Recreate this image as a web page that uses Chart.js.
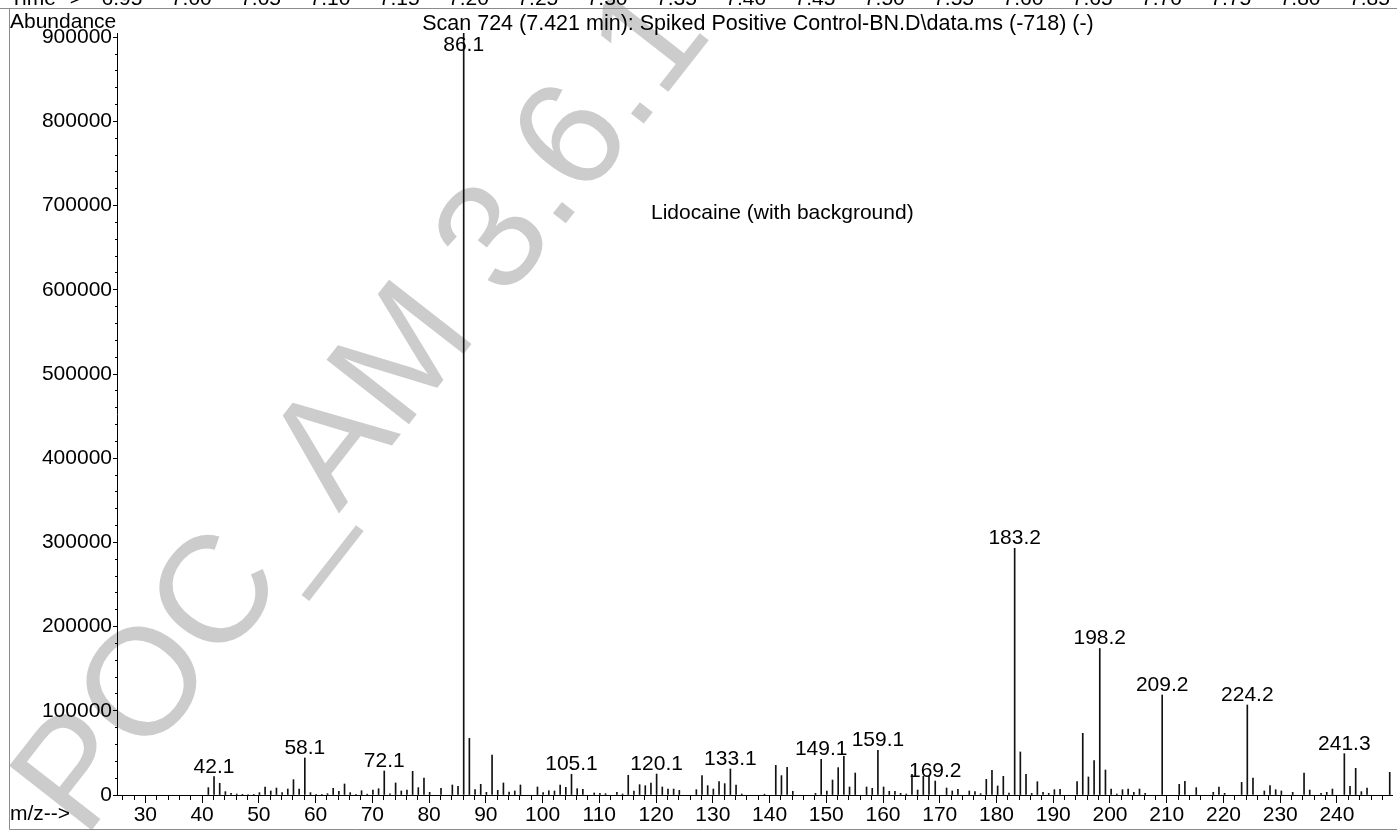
<!DOCTYPE html>
<html>
<head>
<meta charset="utf-8">
<title>Scan 724 - Lidocaine</title>
<script src="https://cdn.jsdelivr.net/npm/chart.js@4.4.1/dist/chart.umd.min.js"></script>
<style>
  html, body { margin: 0; padding: 0; background: #fff; }
  #wrap { width: 1397px; height: 831px; }
</style>
</head>
<body>
<div id="wrap"><canvas id="msChart" width="1397" height="831"></canvas></div>
<script>
// m/z of each line and its abundance
const mzValues = [
    41.1, 42.1, 43.1, 44.1, 45.1, 46.1, 47.1, 48.1, 49.1, 50.1,
    51.1, 52.1, 53.1, 54.1, 55.1, 56.1, 57.1, 58.1, 59.1, 60.1,
    61.1, 62.1, 63.1, 64.1, 65.1, 66.1, 67.1, 68.1, 69.1, 70.1,
    71.1, 72.1, 73.1, 74.1, 75.1, 76.1, 77.1, 78.1, 79.1, 80.1,
    82.1, 84.1, 85.1, 86.1, 87.1, 88.1, 89.1, 90.1, 91.1, 92.1,
    93.1, 94.1, 95.1, 96.1, 99.1, 100.1, 101.1, 102.1, 103.1, 104.1,
    105.1, 106.1, 107.1, 109.1, 110.1, 111.1, 113.1, 114.1, 115.1, 116.1,
    117.1, 118.1, 119.1, 120.1, 121.1, 122.1, 123.1, 124.1, 127.1, 128.1,
    129.1, 130.1, 131.1, 132.1, 133.1, 134.1, 135.1, 139.1, 141.1, 142.1,
    143.1, 144.1, 148.1, 149.1, 150.1, 151.1, 152.1, 153.1, 154.1, 155.1,
    157.1, 158.1, 159.1, 160.1, 161.1, 162.1, 163.1, 164.1, 165.1, 166.1,
    167.1, 168.1, 169.2, 171.2, 172.2, 173.2, 175.2, 176.2, 177.2, 178.2,
    179.2, 180.2, 181.2, 182.2, 183.2, 184.2, 185.2, 186.2, 187.2, 188.2,
    189.2, 190.2, 191.2, 194.2, 195.2, 196.2, 197.2, 198.2, 199.2, 200.2,
    201.2, 202.2, 203.2, 204.2, 205.2, 206.2, 209.2, 212.2, 213.2, 215.2,
    218.2, 219.2, 220.2, 223.2, 224.2, 225.2, 227.2, 228.2, 229.2, 230.2,
    232.2, 234.2, 235.2, 237.2, 238.2, 239.2, 241.3, 242.3, 243.3, 244.3,
    245.3, 249.3
];
const abundances = [
    8700, 21800, 13900, 4000, 2000, 1200, 800, 600, 700, 2800,
    9500, 4800, 8300, 2800, 7100, 18200, 7100, 44000, 2800, 800,
    800, 1600, 7900, 4400, 13100, 2800, 900, 5100, 1000, 5900,
    7500, 28500, 1500, 14300, 4800, 5900, 28100, 8700, 20200, 3200,
    7900, 11900, 10300, 910000, 67300, 6300, 12700, 3200, 47500, 5500,
    14300, 3600, 4800, 11900, 9500, 2800, 5100, 4800, 11900, 9100,
    24600, 7500, 6700, 2400, 2000, 1600, 3200, 1200, 23400, 4800,
    12300, 11100, 14300, 24900, 9500, 7100, 7100, 5500, 6300, 23000,
    11100, 7100, 15800, 13500, 30900, 11900, 1200, 1000, 35200, 23000,
    32900, 4400, 2000, 42400, 4800, 17800, 32500, 45900, 9500, 26100,
    9500, 7900, 53100, 9500, 4400, 4400, 2000, 1200, 24600, 5900,
    22200, 22200, 16600, 8300, 4800, 6700, 4800, 4000, 1600, 18600,
    29300, 10700, 22200, 2400, 293000, 51100, 24600, 2000, 15800, 3200,
    2000, 6300, 6700, 15800, 73300, 21400, 40800, 174000, 29700, 7100,
    1200, 6300, 7100, 3200, 7100, 2000, 118800, 12700, 16200, 8700,
    3200, 9500, 2000, 15000, 106900, 20200, 4800, 11100, 6300, 4800,
    3200, 26100, 5900, 2000, 3200, 7100, 49100, 10300, 31700, 4000,
    8300, 26900
];
// lines that carry an m/z label in the printout
const labelledMz = [42.1, 58.1, 72.1, 86.1, 105.1, 120.1, 133.1, 149.1, 159.1, 169.2,
    183.2, 198.2, 209.2, 224.2, 241.3];

const xMajorTicks = [30, 40, 50, 60, 70, 80, 90, 100, 110, 120, 130, 140, 150, 160, 170,
    180, 190, 200, 210, 220, 230, 240];
const yMajorTicks = [0, 100000, 200000, 300000, 400000, 500000, 600000, 700000, 800000, 900000];
const timeLabels = ['6.95', '7.00', '7.05', '7.10', '7.15', '7.20', '7.25', '7.30', '7.35', '7.40',
    '7.45', '7.50', '7.55', '7.60', '7.65', '7.70', '7.75', '7.80', '7.85'];

const titleText = 'Scan 724 (7.421 min): Spiked Positive Control-BN.D\\data.ms (-718) (-)';
const noteText = 'Lidocaine (with background)';
const watermarkText = 'POC_AM 3.6.1';

const X_MIN = 25, X_MAX = 249.7;
const Y_MIN = 0, Y_MAX = 905000;
const FONT = '"Liberation Sans", Arial, Helvetica, sans-serif';

// minor tick positions (every 2 m/z, every 20000 counts)
const xMinorTicks = [];
for (let v = 26; v < X_MAX; v += 2) xMinorTicks.push(v);
const yMinorTicks = [];
for (let v = 0; v <= 900000; v += 20000) yMinorTicks.push(v);

const printout = {
    id: 'printout',
    beforeDraw(chart) {
        const ctx = chart.ctx;
        ctx.save();
        ctx.fillStyle = '#cccccc';
        ctx.font = '152px ' + FONT;
        ctx.textAlign = 'left';
        ctx.textBaseline = 'alphabetic';
        ctx.translate(84, 840);
        ctx.rotate(-52 * Math.PI / 180);
        ctx.fillText(watermarkText, 0, 0);
        ctx.restore();
    },
    afterDraw(chart) {
        const ctx = chart.ctx;
        const xs = chart.scales.x;
        const ys = chart.scales.y;
        ctx.save();

        // page frame
        ctx.strokeStyle = '#8c8c8c';
        ctx.lineWidth = 1;
        ctx.beginPath();
        ctx.moveTo(0, 8.5); ctx.lineTo(1397, 8.5);
        ctx.moveTo(9.5, 8.5); ctx.lineTo(9.5, 829.5);
        ctx.moveTo(9.5, 829.5); ctx.lineTo(1397, 829.5);
        ctx.stroke();

        ctx.fillStyle = '#000';
        ctx.font = '21px ' + FONT;

        // cut-off time axis of the chromatogram above
        ctx.textBaseline = 'alphabetic';
        ctx.textAlign = 'left';
        ctx.fillText('Time-->', 10, 5);
        ctx.textAlign = 'center';
        timeLabels.forEach((t, i) => ctx.fillText(t, 122 + i * 69.3, 5));

        ctx.textAlign = 'left';
        ctx.fillText('Abundance', 10, 28);
        ctx.fillText('m/z-->', 10, 820);
        ctx.fillText(noteText, 651, 219);

        ctx.font = '21.5px ' + FONT;
        ctx.textAlign = 'center';
        ctx.fillText(titleText, 758, 30);

        // m/z labels above the main lines
        ctx.font = '21px ' + FONT;
        labelledMz.forEach((mz) => {
            const i = mzValues.indexOf(mz);
            const px = xs.getPixelForValue(mz);
            const py = ys.getPixelForValue(Math.min(abundances[i], Y_MAX));
            ctx.fillText(mz.toFixed(1), px, Math.max(py - 4, 51));
        });
        ctx.restore();
    }
};

const dataSpectrum = {
    datasets: [{
        label: 'Abundance',
        data: mzValues.map((mz, i) => ({ x: mz, y: abundances[i] })),
        backgroundColor: '#111',
        borderWidth: 0,
        barThickness: 1,
    }]
};

const configSpectrum = {
    type: 'bar',
    data: dataSpectrum,
    plugins: [printout],
    options: {
        responsive: false,
        animation: false,
        events: [],
        layout: { padding: { top: 33, right: 5, bottom: 0, left: 0 } },
        plugins: {
            legend: { display: false },
            tooltip: { enabled: false },
        },
        scales: {
            x: {
                type: 'linear',
                position: 'bottom',
                weight: 1,
                min: X_MIN,
                max: X_MAX,
                offset: false,
                afterBuildTicks: (s) => { s.ticks = xMajorTicks.map((v) => ({ value: v })); },
                afterFit: (s) => { s.height = 36; },
                ticks: {
                    color: '#000',
                    font: { family: FONT, size: 21 },
                    padding: 0,
                    maxRotation: 0,
                    autoSkip: false,
                    callback: (v) => String(v),
                },
                grid: { offset: false, drawOnChartArea: false, drawTicks: true, tickLength: 8, color: '#000' },
                border: { display: true, color: '#000', width: 1 },
            },
            x2: {
                type: 'linear',
                position: 'bottom',
                weight: 0,
                min: X_MIN,
                max: X_MAX,
                offset: false,
                afterBuildTicks: (s) => { s.ticks = xMinorTicks.map((v) => ({ value: v })); },
                afterFit: (s) => { s.height = 0; },
                ticks: { display: false },
                grid: { offset: false, drawOnChartArea: false, drawTicks: true, tickLength: 5, color: '#000' },
                border: { display: false },
            },
            y: {
                type: 'linear',
                position: 'left',
                weight: 1,
                min: Y_MIN,
                max: Y_MAX,
                afterBuildTicks: (s) => { s.ticks = yMajorTicks.map((v) => ({ value: v })); },
                afterFit: (s) => { s.width = 117; },
                ticks: {
                    color: '#000',
                    font: { family: FONT, size: 21 },
                    padding: 1,
                    autoSkip: false,
                    callback: (v) => String(v),
                },
                grid: { drawOnChartArea: false, drawTicks: true, tickLength: 4, color: '#000' },
                border: { display: true, color: '#000', width: 1 },
            },
            y2: {
                type: 'linear',
                position: 'left',
                weight: 0,
                min: Y_MIN,
                max: Y_MAX,
                afterBuildTicks: (s) => { s.ticks = yMinorTicks.map((v) => ({ value: v })); },
                afterFit: (s) => { s.width = 0; },
                ticks: { display: false },
                grid: { drawOnChartArea: false, drawTicks: true, tickLength: 2, color: '#000' },
                border: { display: false },
            }
        }
    }
};

new Chart(
    document.getElementById('msChart'),
    configSpectrum
);
</script>
</body>
</html>
